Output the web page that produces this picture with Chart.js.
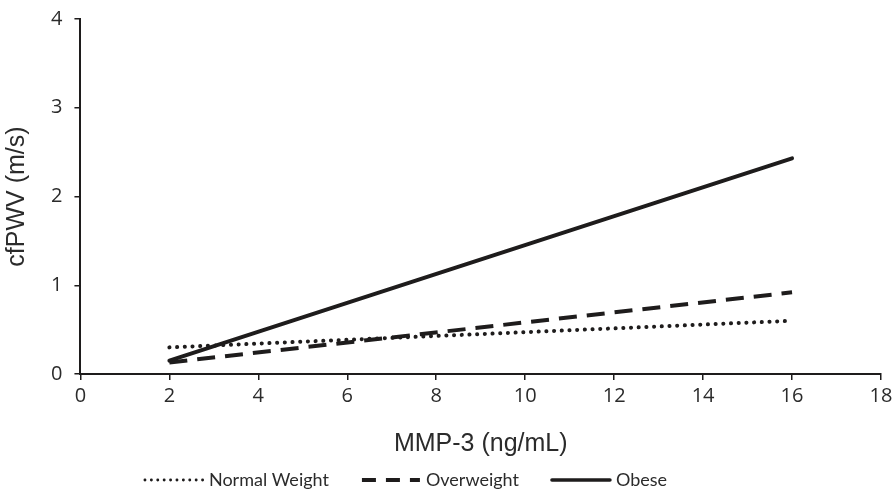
<!DOCTYPE html>
<html>
<head>
<meta charset="utf-8">
<script src="https://cdn.jsdelivr.net/npm/chart.js@4/dist/chart.umd.min.js"></script>
<style>
  html, body { margin: 0; padding: 0; background: #fff; }
  #wrap { width: 893px; height: 502px; position: relative; }
</style>
</head>
<body>
<div id="wrap"><canvas id="mmpChart"></canvas></div>
<script>
// MMP-3 vs cfPWV regression lines per weight group
const mmpRange = [2, 16];
const normalWeight = [0.30, 0.60];
const overweight = [0.13, 0.92];
const obese = [0.15, 2.43];
const groupLabels = ['Normal Weight', 'Overweight', 'Obese'];

const ink = '#1e1c1c';
const textInk = '#2b2b2b';

function toPoints(ys) {
  return mmpRange.map((x, i) => ({ x: x, y: ys[i] }));
}

// Bottom legend: line sample followed by the label, centred under the plot
const lineLegend = {
  id: 'lineLegend',
  afterDraw(chart, args, opts) {
    const ctx = chart.ctx;
    const sets = chart.data.datasets;
    ctx.save();
    ctx.font = opts.font;
    const widths = sets.map(ds => opts.sample + opts.textGap + ctx.measureText(ds.label).width);
    const total = widths.reduce((a, b) => a + b, 0) + opts.itemGap * (sets.length - 1);
    let x = opts.centerX - total / 2;
    const y = opts.y;
    sets.forEach((ds, i) => {
      ctx.strokeStyle = ds.borderColor;
      ctx.lineWidth = ds.legendWidth || ds.borderWidth;
      ctx.lineCap = ds.borderCapStyle || 'butt';
      ctx.setLineDash(ds.legendDash || ds.borderDash || []);
      ctx.beginPath();
      ctx.moveTo(x, y);
      ctx.lineTo(x + opts.sample, y);
      ctx.stroke();
      ctx.setLineDash([]);
      ctx.fillStyle = textInk;
      ctx.textBaseline = 'middle';
      ctx.textAlign = 'left';
      ctx.fillText(ds.label, x + opts.sample + opts.textGap, y);
      x += widths[i] + opts.itemGap;
    });
    ctx.restore();
  }
};

const chart = new Chart(document.getElementById('mmpChart'), {
  type: 'line',
  data: {
    datasets: [{
      label: groupLabels[0],
      data: toPoints(normalWeight),
      borderColor: ink,
      borderWidth: 4,
      borderDash: [0.1, 7.6],
      legendWidth: 2.8,
      legendDash: [0.1, 6.3],
      borderCapStyle: 'round',
      pointRadius: 0
    }, {
      label: groupLabels[1],
      data: toPoints(overweight),
      borderColor: ink,
      borderWidth: 4,
      borderDash: [18, 10],
      legendDash: [14, 10],
      borderCapStyle: 'butt',
      pointRadius: 0
    }, {
      label: groupLabels[2],
      data: toPoints(obese),
      borderColor: ink,
      borderWidth: 4,
      legendWidth: 3.5,
      borderCapStyle: 'round',
      pointRadius: 0
    }]
  },
  plugins: [lineLegend],
  options: {
    responsive: true,
    maintainAspectRatio: false,
    animation: false,
    layout: { padding: { left: 0, right: 12, top: 19, bottom: 43 } },
    scales: {
      x: {
        type: 'linear',
        min: 0,
        max: 18,
        // let the last tick label hang into the right margin
        afterFit(scale) { scale.paddingRight = 0; },
        ticks: {
          stepSize: 2,
          color: textInk,
          font: { family: 'Open Sans', size: 20 },
          padding: 4
        },
        grid: {
          drawOnChartArea: false,
          drawTicks: true,
          tickLength: 6,
          color: ink,
          lineWidth: 1.5
        },
        border: { color: ink, width: 2 },
        title: {
          display: true,
          text: 'MMP-3 (ng/mL)',
          color: textInk,
          font: { family: 'Liberation Sans', size: 25 },
          padding: { top: 17, bottom: 0 }
        }
      },
      y: {
        min: 0,
        max: 4,
        afterFit(scale) { scale.paddingTop = 0; },
        ticks: {
          stepSize: 1,
          color: textInk,
          font: { family: 'Open Sans', size: 20 },
          padding: 12
        },
        grid: {
          drawOnChartArea: false,
          drawTicks: true,
          tickLength: 6,
          color: ink,
          lineWidth: 1.5
        },
        border: { color: ink, width: 2 },
        title: {
          display: true,
          text: 'cfPWV (m/s)',
          color: textInk,
          font: { family: 'Liberation Sans', size: 25 },
          padding: { top: 2, bottom: 7 }
        }
      }
    },
    plugins: {
      legend: { display: false },
      tooltip: { enabled: false },
      lineLegend: {
        font: '18px Lato',
        sample: 58,
        textGap: 6,
        itemGap: 33,
        centerX: 406,
        y: 480
      }
    }
  }
});
</script>
</body>
</html>
